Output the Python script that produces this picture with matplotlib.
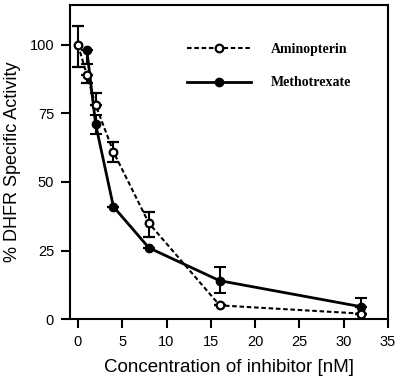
import numpy as np
import matplotlib
matplotlib.use('Agg')
from matplotlib import pyplot as plt
from matplotlib.lines import Line2D

# inhibitor concentration [nM]
conc_ami = [0, 1, 2, 4, 8, 16, 32]
conc_mtx = [1, 2, 4, 8, 16, 32]

# % DHFR specific activity
ami = [100, 89, 78, 61, 35, 5, 2]
ami_lo = [8, 3, 0, 3.6, 5, 0, 0]
ami_hi = [7, 0, 4.5, 3.7, 4, 0, 0]

mtx = [98, 71, 41, 26, 14, 4.5]
mtx_lo = [5, 3.5, 0, 0, 4.5, 0]
mtx_hi = [0, 3.5, 0, 0, 5, 3.2]

plt.rcParams['font.family'] = 'Liberation Sans'

fig = plt.figure(figsize=(4, 3.84), dpi=100)
ax = fig.add_axes([0.175, 0.169, 0.795, 0.818])

ax.errorbar(conc_ami, ami, yerr=[ami_lo, ami_hi], color='black', ls=(0, (2.2, 1.3)),
            lw=1.5, marker='o', ms=5.5, mfc='white', mew=1.6, capsize=4.5,
            elinewidth=1.5, capthick=1.5, zorder=3)
ax.errorbar(conc_mtx, mtx, yerr=[mtx_lo, mtx_hi], color='black', ls='-',
            lw=2, marker='o', ms=6, mfc='black', capsize=4.5,
            elinewidth=1.5, capthick=1.5, zorder=2)

ax.set_xlim(-0.9, 35)
ax.set_ylim(0, 114.5)
ax.set_xticks(np.arange(0, 36, 5))
ax.set_yticks([0, 25, 50, 75, 100])
ax.tick_params(direction='out', length=6.5, width=1.5, labelsize=10.5, pad=5)
for s in ax.spines.values():
    s.set_linewidth(1.5)

ax.set_xlabel('Concentration of inhibitor [nM]', fontsize=13.5, labelpad=7)
ax.set_ylabel('% DHFR Specific Activity', fontsize=13, labelpad=6)

handles = [
    Line2D([], [], color='black', ls=(0, (2.2, 1.3)), lw=1.5, marker='o', ms=5.5,
           mfc='white', mew=1.6),
    Line2D([], [], color='black', ls='-', lw=2, marker='o', ms=6, mfc='black'),
]
ax.legend(handles, ['Aminopterin', 'Methotrexate'], loc='upper left',
          bbox_to_anchor=(0.33, 0.92), frameon=False,
          handlelength=4.6, labelspacing=1.5, handletextpad=1.4,
          prop={'family': 'Liberation Serif', 'size': 10, 'weight': 'bold'})

plt.savefig('out.png')
plt.close()
